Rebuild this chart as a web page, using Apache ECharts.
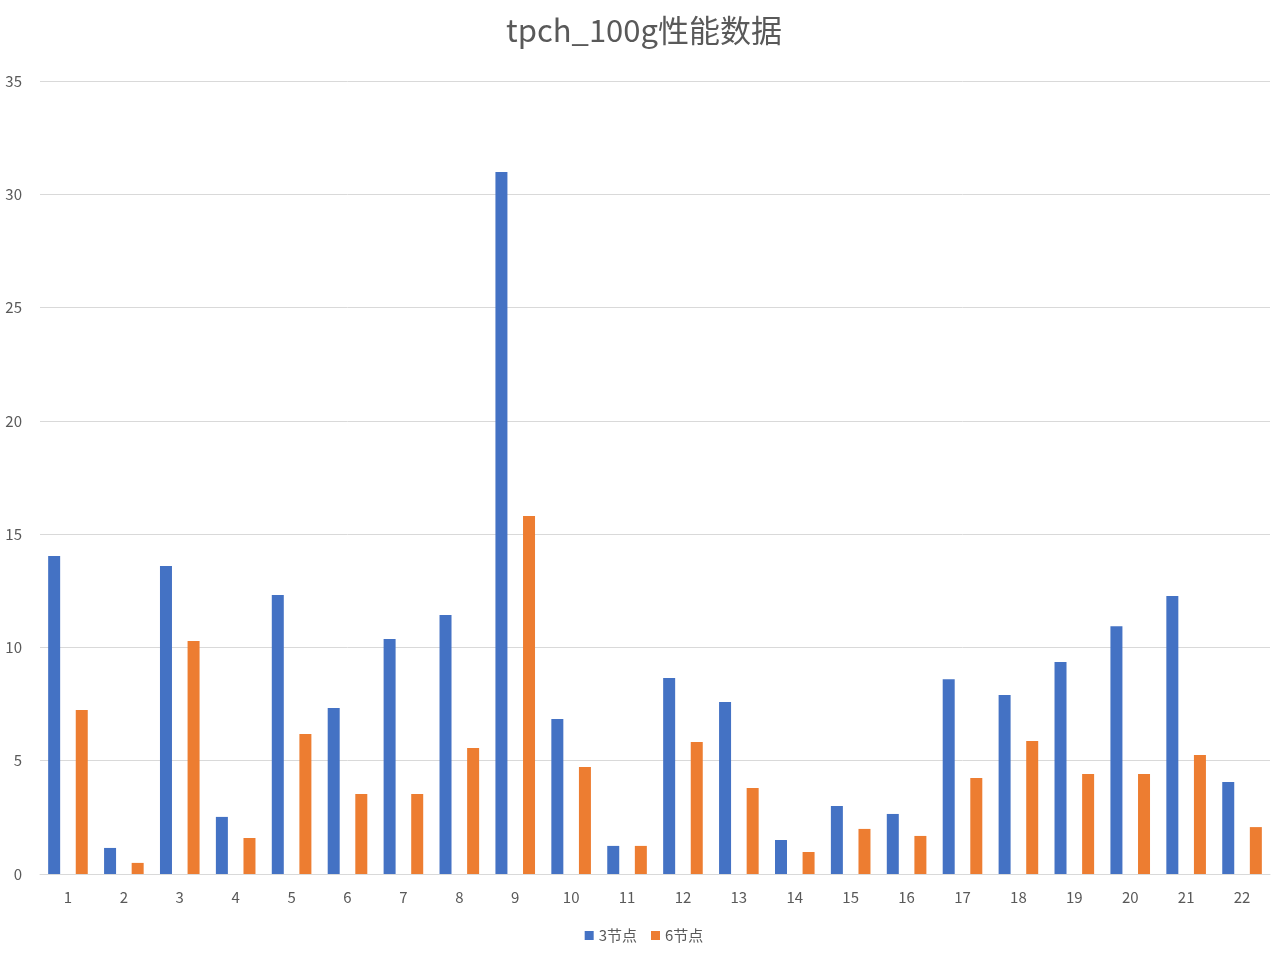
<!DOCTYPE html>
<html><head><meta charset="utf-8">
<script src="https://cdn.jsdelivr.net/npm/echarts@6/dist/echarts.min.js"></script>
<style>html,body{margin:0;background:#fff}#c{width:1288px;height:958px}</style>
</head><body><div id="c"></div>
<script>
const categories = ['1','2','3','4','5','6','7','8','9','10','11','12','13','14','15','16','17','18','19','20','21','22'];
const node3 = [14.03,1.15,13.59,2.52,12.31,7.33,10.37,11.43,30.98,6.84,1.24,8.65,7.59,1.5,3.0,2.65,8.6,7.9,9.36,10.94,12.27,4.06];
const node6 = [7.24,0.49,10.28,1.59,6.18,3.53,3.53,5.56,15.8,4.72,1.24,5.83,3.8,0.97,1.99,1.68,4.24,5.87,4.41,4.41,5.25,2.07];
const chart = echarts.init(document.getElementById('c'));
const font = '"Noto Sans CJK SC", "Noto Sans", sans-serif';
chart.setOption({
  animation:false,
  textStyle:{fontFamily:font},
  title:{text:'tpch_100g性能数据',left:'center',top:10,textStyle:{fontSize:31,fontWeight:'normal',color:'#595959',fontFamily:font}},
  legend:{bottom:10,left:'center',itemWidth:9,itemHeight:9,itemGap:14,icon:'rect',textStyle:{fontSize:15,color:'#595959'}},
  grid:{left:40,right:18,top:81,bottom:84},
  xAxis:{type:'category',data:categories,axisTick:{show:false},axisLine:{lineStyle:{color:'#d9d9d9'}},axisLabel:{fontSize:15,color:'#595959',margin:16}},
  yAxis:{type:'value',min:0,max:35,interval:5,axisLabel:{fontSize:15,color:'#595959',margin:18},splitLine:{lineStyle:{color:'#d9d9d9'}}},
  series:[
    {name:'3节点',type:'bar',data:node3,barWidth:12,barGap:'130%',itemStyle:{color:'#4472C4'}},
    {name:'6节点',type:'bar',data:node6,barWidth:12,itemStyle:{color:'#ED7D31'}}
  ]
});
</script></body></html>
